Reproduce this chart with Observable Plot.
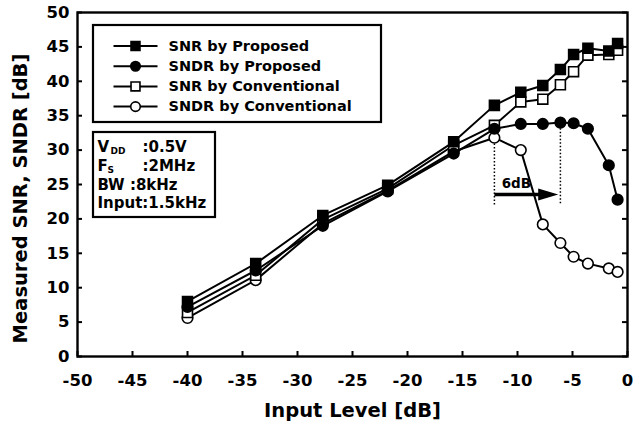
<!DOCTYPE html>
<html><head><meta charset="utf-8">
<script src="https://cdn.jsdelivr.net/npm/d3@7"></script>
<script src="https://cdn.jsdelivr.net/npm/@observablehq/plot@0.6"></script>
<style>body{margin:0;background:#fff}#chart{width:640px;height:425px}</style>
</head><body><div id="chart"></div>
<script>
// ---- data ----
const inputLevel = [-40, -33.8, -27.7, -21.8, -15.8, -12.1, -9.7, -7.7, -6.1, -4.9, -3.6, -1.7, -0.9];
const snrProposed = [8.0, 13.5, 20.5, 24.9, 31.2, 36.5, 38.4, 39.4, 41.7, 43.9, 44.8, 44.4, 45.5];
const sndrProposed = [7.2, 12.5, 19.0, 24.0, 29.5, 33.1, 33.8, 33.8, 34.0, 33.9, 33.1, 27.8, 22.8];
const snrConventional = [6.4, 11.8, 19.9, 24.4, 30.7, 33.6, 37.0, 37.4, 39.5, 41.4, 43.8, 43.9, 44.5];
const sndrConventional = [5.6, 11.1, 19.3, 24.1, 29.8, 31.8, 30.0, 19.2, 16.5, 14.5, 13.5, 12.8, 12.3];
const seriesNames = ["SNR by Proposed", "SNDR by Proposed", "SNR by Conventional", "SNDR by Conventional"];
const xTicks = [-50, -45, -40, -35, -30, -25, -20, -15, -10, -5, 0];
const yTicks = [0, 5, 10, 15, 20, 25, 30, 35, 40, 45, 50];
const xTitle = "Input Level [dB]";
const yTitle = "Measured SNR, SNDR [dB]";
const annotationLabel = "6dB";
const arrowFrom = -12.1, arrowTo = -6.1;

// ---- layout ----
const W = 640, H = 425, mL = 77, mR = 13, mT = 12, mB = 69;
const xDom = [-50, 0], yDom = [0, 50];
const px2x = px => xDom[0] + (px - mL) * (xDom[1] - xDom[0]) / (W - mL - mR);
const px2y = py => yDom[1] - (py - mT) * (yDom[1] - yDom[0]) / (H - mT - mB);
const FONT = "DejaVu Sans";

const seriesValues = [snrProposed, sndrProposed, snrConventional, sndrConventional];
const seriesStyle = [
  {symbol: "square", fill: "black", r: 5.6},
  {symbol: "circle", fill: "black", r: 5.3},
  {symbol: "square", fill: "white", r: 5.6},
  {symbol: "circle", fill: "white", r: 5.3}
];
const seriesRows = seriesValues.map(vals => inputLevel.map((x, i) => ({x, y: vals[i]})));

const arrowHead = {
  draw(ctx) { ctx.moveTo(0, 0); ctx.lineTo(-20, -6); ctx.lineTo(-20, 6); ctx.closePath(); }
};

const marks = [];
// legend box & parameter box
marks.push(Plot.rect([0], {x1: px2x(93), x2: px2x(381), y1: px2y(25), y2: px2y(122), fill: "white", stroke: "black", strokeWidth: 2.2}));
marks.push(Plot.rect([0], {x1: px2x(93), x2: px2x(215), y1: px2y(132), y2: px2y(217), fill: "white", stroke: "black", strokeWidth: 2.2}));

// series
for (const s of [3, 2, 1, 0]) {
  marks.push(Plot.line(seriesRows[s], {x: "x", y: "y", stroke: "black", strokeWidth: 2}));
}
for (const s of [3, 2, 1, 0]) {
  const st = seriesStyle[s];
  marks.push(Plot.dot(seriesRows[s], {x: "x", y: "y", symbol: st.symbol, r: st.r, fill: st.fill, stroke: "black", strokeWidth: 1.6}));
}

// legend entries
seriesNames.forEach((name, s) => {
  const yy = px2y(45.5 + s * 20.2);
  const st = seriesStyle[s];
  marks.push(Plot.link([0], {x1: px2x(113), x2: px2x(157), y1: yy, y2: yy, stroke: "black", strokeWidth: 2}));
  marks.push(Plot.dot([0], {x: px2x(135), y: yy, symbol: st.symbol, r: st.r * 0.9, fill: st.fill, stroke: "black", strokeWidth: 1.6}));
  marks.push(Plot.text([name], {x: px2x(168), y: yy, text: d => d, textAnchor: "start", fontSize: 14.5, fill: "black"}));
});

// parameter box text
const pRow = [147, 166, 184.5, 203];
marks.push(Plot.text(["V"], {x: px2x(97), y: px2y(pRow[0]), text: d => d, textAnchor: "start", fontSize: 15}));
marks.push(Plot.text(["DD"], {x: px2x(110), y: px2y(pRow[0] + 4), text: d => d, textAnchor: "start", fontSize: 9}));
marks.push(Plot.text([":0.5V"], {x: px2x(142), y: px2y(pRow[0]), text: d => d, textAnchor: "start", fontSize: 15}));
marks.push(Plot.text(["F"], {x: px2x(97), y: px2y(pRow[1]), text: d => d, textAnchor: "start", fontSize: 15}));
marks.push(Plot.text(["S"], {x: px2x(107), y: px2y(pRow[1] + 4), text: d => d, textAnchor: "start", fontSize: 9}));
marks.push(Plot.text([":2MHz"], {x: px2x(142), y: px2y(pRow[1]), text: d => d, textAnchor: "start", fontSize: 15}));
marks.push(Plot.text(["BW :8kHz"], {x: px2x(97), y: px2y(pRow[2]), text: d => d, textAnchor: "start", fontSize: 15}));
marks.push(Plot.text(["Input:1.5kHz"], {x: px2x(97), y: px2y(pRow[3]), text: d => d, textAnchor: "start", fontSize: 15}));

// 6dB annotation
marks.push(Plot.ruleX([arrowFrom], {x: d => d, y1: sndrConventional[5] - 0.9, y2: 22, stroke: "black", strokeWidth: 1.5, strokeDasharray: "1.5,2"}));
marks.push(Plot.ruleX([arrowTo], {x: d => d, y1: sndrProposed[8] - 0.9, y2: 22, stroke: "black", strokeWidth: 1.5, strokeDasharray: "1.5,2"}));
marks.push(Plot.link([0], {x1: arrowFrom, x2: arrowTo - 1.2, y1: 23.55, y2: 23.55, stroke: "black", strokeWidth: 3.5}));
marks.push(Plot.dot([0], {x: arrowTo - 0.2, y: 23.55, symbol: arrowHead, r: 4, fill: "black", stroke: "none"}));
marks.push(Plot.text([annotationLabel], {x: (arrowFrom + arrowTo) / 2 - 1.0, y: 25.1, text: d => d, fontSize: 13.5}));

// axes, ticks, frame
marks.push(Plot.tickX(xTicks, {x: d => d, insetTop: H - mT - mB - 5, stroke: "black", strokeWidth: 2}));
marks.push(Plot.tickY(yTicks, {y: d => d, insetRight: W - mL - mR - 5, stroke: "black", strokeWidth: 2}));
marks.push(Plot.tickY(yTicks, {y: d => d, insetLeft: W - mL - mR - 5, stroke: "black", strokeWidth: 2}));
marks.push(Plot.frame({stroke: "black", strokeWidth: 2.4}));
marks.push(Plot.axisX({ticks: xTicks, tickSize: 0, tickPadding: 18, fontSize: 16.5, tickFormat: d => String(d), label: null}));
marks.push(Plot.axisY({ticks: yTicks, tickSize: 0, tickPadding: 8, fontSize: 16.5, tickFormat: d => String(d), label: null}));
marks.push(Plot.text([xTitle], {frameAnchor: "bottom", textAnchor: "middle", lineAnchor: "middle", dy: 54, text: d => d, fontSize: 19.5}));
marks.push(Plot.text([yTitle], {frameAnchor: "left", textAnchor: "middle", lineAnchor: "middle", rotate: -90, dx: -57, dy: 14, text: d => d, fontSize: 19.5}));

const chart = Plot.plot({
  width: W, height: H,
  marginLeft: mL, marginRight: mR, marginTop: mT, marginBottom: mB,
  x: {domain: xDom},
  y: {domain: yDom},
  style: {fontFamily: FONT, fontWeight: "bold", background: "white", color: "black", overflow: "visible"},
  marks
});
document.getElementById("chart").append(chart);
</script>
</body></html>
